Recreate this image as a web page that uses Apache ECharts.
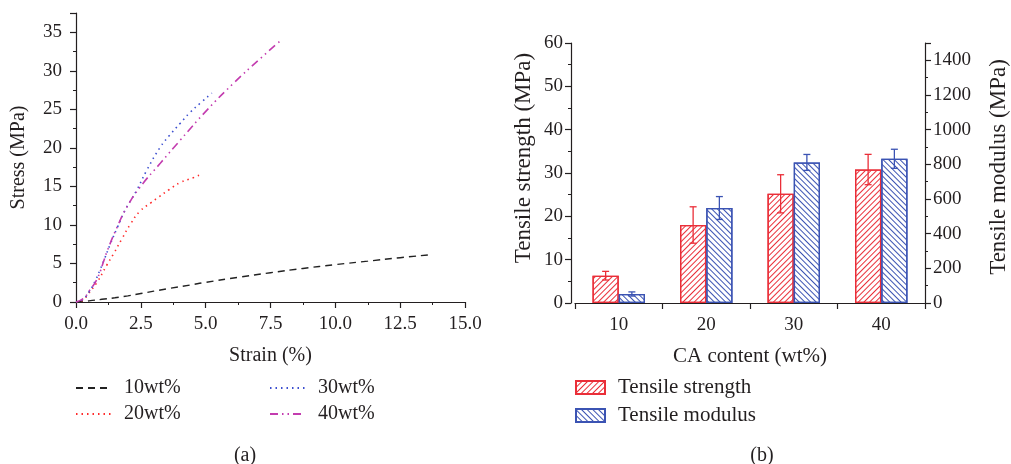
<!DOCTYPE html>
<html>
<head>
<meta charset="utf-8">
<script src="https://cdn.jsdelivr.net/npm/echarts@6/dist/echarts.min.js"></script>
<style>
  html, body { margin: 0; padding: 0; background: #fff; }
  #chart { width: 1011px; height: 464px; }
</style>
</head>
<body>
<div id="chart"></div>
<script>
// (a) stress-strain curves, points are [strain %, stress MPa]
var curve10 = [[0,0],[0.5,0.15],[1,0.35],[1.5,0.55],[2,0.8],[2.5,1.1],[3.5,1.7],[4.4,2.2],[5,2.55],[6.25,3.2],[7.5,3.8],[8.75,4.35],[10,4.85],[11.25,5.3],[12.5,5.75],[13.7,6.15]]
var curve20 = [[0,0],[0.25,0.2],[0.48,1.1],[0.8,2.5],[1.19,4.8],[1.44,6.2],[1.77,8.2],[2.1,10.1],[2.47,11.8],[2.9,12.9],[3.18,13.6],[3.6,14.6],[4.02,15.5],[4.5,16.1],[4.85,16.6]]
var curve30 = [[0,0],[0.25,0.3],[0.5,1.3],[0.75,2.8],[0.93,4.2],[1.1,5.6],[1.32,7.5],[1.6,9.7],[1.89,11.9],[2.34,14.5],[2.73,17.1],[3.25,20.1],[3.6,21.6],[4.02,23.2],[4.4,24.6],[4.79,25.8],[5.24,27.1]]
var curve40 = [[0,0],[0.3,0.5],[0.5,1.4],[0.8,2.9],[1.1,5.6],[1.19,6.5],[1.57,9.6],[1.96,12.3],[2.47,14.9],[3.25,18.0],[4.02,21.0],[5.05,24.9],[6.08,28.4],[7.11,31.6],[7.95,34.1]]
var curveNames = ['10wt%', '20wt%', '30wt%', '40wt%']

// (b) tensile properties vs CA content
var contents = ['10', '20', '30', '40']
var strength = [6.3, 18.0, 25.2, 30.8]
var strengthErr = [1.0, 4.2, 4.4, 3.5]
var modulus = [52, 548, 811, 832]
var modulusErr = [12, 66, 46, 55]

var FONT = 'Liberation Serif'
var INK = '#231f20'
var RED = '#ea2e38'
var BLUE = '#3b53b3'

var myChart = echarts.init(document.getElementById('chart'))

function tickFont(size) {
  return { fontFamily: FONT, fontSize: size, color: INK }
}
function plain(v) { return String(v) }

function axisBase(extra, nameSize) {
  var base = {
    axisLine: { show: true, onZero: false, lineStyle: { color: INK, width: 1.2 } },
    axisTick: { show: true, inside: false, length: 6, lineStyle: { color: INK, width: 1.2 } },
    minorTick: { show: true, splitNumber: 2, length: 3, lineStyle: { color: INK, width: 1 } },
    splitLine: { show: false },
    minorSplitLine: { show: false },
    nameTextStyle: { fontFamily: FONT, fontSize: nameSize || 20, color: INK }
  }
  return Object.assign(base, extra)
}

// error bars drawn beside the bar centre (side -1 left bar, +1 right bar)
function errorBar(side, color) {
  return function (params, api) {
    var i = api.value(0), v = api.value(1), e = api.value(2)
    var band = api.size([1, 0])[0]
    var x = api.coord([i, v])[0] + side * band * 0.15
    var top = api.coord([i, v + e])[1]
    var bot = api.coord([i, v - e])[1]
    var cap = 3.5
    var st = { stroke: color, lineWidth: 1.3 }
    return {
      type: 'group',
      children: [
        { type: 'line', shape: { x1: x, y1: top, x2: x, y2: bot }, style: st },
        { type: 'line', shape: { x1: x - cap, y1: top, x2: x + cap, y2: top }, style: st },
        { type: 'line', shape: { x1: x - cap, y1: bot, x2: x + cap, y2: bot }, style: st }
      ]
    }
  }
}

function hatch(color, rot) {
  return {
    symbol: 'rect',
    symbolSize: 1,
    dashArrayX: [1, 0],
    dashArrayY: [1, 3],
    rotation: rot,
    color: color,
    backgroundColor: 'rgba(0,0,0,0)'
  }
}

function legendItem(name, left, top, w, size) {
  return {
    data: [name], left: left, top: top, orient: 'horizontal',
    itemWidth: w, itemHeight: 13, padding: 0,
    itemStyle: { opacity: 0 },
    textStyle: { fontFamily: FONT, fontSize: size, color: INK, padding: [0, 0, 0, 8] }
  }
}

var option = {
  animation: false,
  backgroundColor: '#fff',
  grid: [
    { left: 76, top: 13, width: 389, height: 289 },
    { left: 575, top: 43, width: 353, height: 260 }
  ],
  xAxis: [
    axisBase({
      gridIndex: 0, type: 'value', min: 0, max: 15, interval: 2.5,
      axisLabel: Object.assign({ margin: 13, formatter: function (v) { return v.toFixed(1) } }, tickFont(19)),
      name: 'Strain (%)', nameLocation: 'middle', nameGap: 44
    }),
    axisBase({
      gridIndex: 1, type: 'category', data: contents, boundaryGap: true,
      axisTick: { show: true, inside: false, length: 6, lineStyle: { color: INK, width: 1.2 } },
      minorTick: { show: false },
      axisLabel: Object.assign({ margin: 13 }, tickFont(19)),
      name: 'CA content (wt%)', nameLocation: 'middle', nameGap: 43
    }, 21)
  ],
  yAxis: [
    axisBase({
      gridIndex: 0, type: 'value', min: 0, max: 37.5, interval: 5,
      axisLabel: Object.assign({ margin: 14, showMaxLabel: false, formatter: plain }, tickFont(19)),
      name: 'Stress (MPa)', nameLocation: 'middle', nameGap: 47
    }),
    axisBase({
      gridIndex: 1, type: 'value', min: 0, max: 60, interval: 10, offset: 4,
      axisLabel: Object.assign({ margin: 8, formatter: plain }, tickFont(19)),
      name: 'Tensile strength (MPa)', nameLocation: 'middle', nameGap: 36,
      nameTextStyle: { fontFamily: FONT, fontSize: 23, color: INK, padding: [0, 0, 0, 30] }
    }),
    axisBase({
      gridIndex: 1, type: 'value', position: 'right', min: 0, max: 1500, interval: 200,
      axisLabel: Object.assign({ margin: 8, showMaxLabel: false, formatter: plain }, tickFont(19)),
      name: 'Tensile modulus (MPa)', nameLocation: 'middle', nameGap: 62,
      nameTextStyle: { fontFamily: FONT, fontSize: 23, color: INK, padding: [0, 0, 0, 12] }
    })
  ],
  legend: [
    legendItem('10wt%', 75, 378, 35, 20),
    legendItem('20wt%', 75, 404, 35, 20),
    legendItem('30wt%', 269, 378, 35, 20),
    legendItem('40wt%', 269, 404, 35, 20),
    Object.assign(legendItem('Tensile strength', 575, 377, 29, 21), { icon: 'rect', itemStyle: {} }),
    Object.assign(legendItem('Tensile modulus', 575, 405, 29, 21), { icon: 'rect', itemStyle: {} })
  ],
  graphic: [
    { type: 'text', x: 245, y: 456, style: { text: '(a)', font: '20px "Liberation Serif"', fill: INK, align: 'center', verticalAlign: 'middle' } },
    { type: 'text', x: 762, y: 456, style: { text: '(b)', font: '20px "Liberation Serif"', fill: INK, align: 'center', verticalAlign: 'middle' } }
  ],
  series: [
    { name: curveNames[0], type: 'line', xAxisIndex: 0, yAxisIndex: 0, data: curve10, symbol: 'none', smooth: true,
      lineStyle: { color: '#222', width: 1.4, type: [7, 5] }, itemStyle: { color: '#222' } },
    { name: curveNames[1], type: 'line', xAxisIndex: 0, yAxisIndex: 0, data: curve20, symbol: 'none', smooth: true,
      lineStyle: { color: '#ff2b2b', width: 1.6, type: [1.5, 4] }, itemStyle: { color: '#ff2b2b' } },
    { name: curveNames[2], type: 'line', xAxisIndex: 0, yAxisIndex: 0, data: curve30, symbol: 'none', smooth: true,
      lineStyle: { color: '#3c4fd0', width: 1.6, type: [1.5, 4] }, itemStyle: { color: '#3c4fd0' } },
    { name: curveNames[3], type: 'line', xAxisIndex: 0, yAxisIndex: 0, data: curve40, symbol: 'none', smooth: true,
      lineStyle: { color: '#c33caf', width: 1.6, type: [8, 4, 1.5, 4, 1.5, 4] }, itemStyle: { color: '#c33caf' } },
    { name: 'Tensile strength', type: 'bar', xAxisIndex: 1, yAxisIndex: 1, data: strength,
      barWidth: '30%', barGap: '0%',
      itemStyle: { color: '#fff', borderColor: RED, borderWidth: 1.3, decal: hatch(RED, -Math.PI / 4) } },
    { name: 'Tensile modulus', type: 'bar', xAxisIndex: 1, yAxisIndex: 2, data: modulus,
      barWidth: '30%', barGap: '0%',
      itemStyle: { color: '#fff', borderColor: BLUE, borderWidth: 1.3, decal: hatch(BLUE, Math.PI / 4) } },
    { type: 'custom', xAxisIndex: 1, yAxisIndex: 1, z: 5, renderItem: errorBar(-1, RED),
      data: strength.map(function (v, i) { return [i, v, strengthErr[i]] }) },
    { type: 'custom', xAxisIndex: 1, yAxisIndex: 2, z: 5, renderItem: errorBar(1, BLUE),
      data: modulus.map(function (v, i) { return [i, v, modulusErr[i]] }) }
  ]
}

myChart.setOption(option)
</script>
</body>
</html>
